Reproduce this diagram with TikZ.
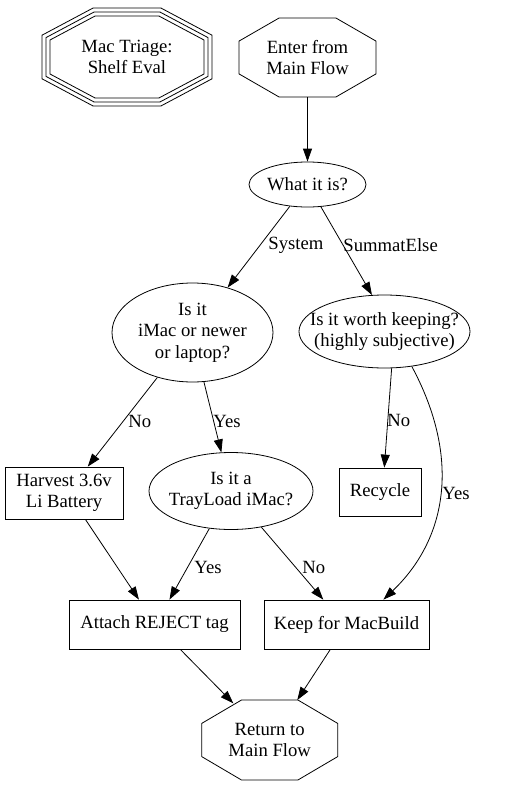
\documentclass[tikz,border=0pt]{standalone}
\usepackage{fontspec}
\setmainfont{Liberation Serif}
\usetikzlibrary{arrows.meta,calc,shapes.geometric}
\newcommand\gvfont{\fontsize{18.67}{21.5}\selectfont}
% octagon drawn around a node: half width a, half side c, half top p, half height b
\newcommand\gvoct[5]{\draw[shift={(#1.center)}] (#2,#3) -- (#4,#5) -- (-#4,#5) -- (-#2,#3) -- (-#2,-#3) -- (-#4,-#5) -- (#4,-#5) -- (#2,-#3) -- cycle;}
\begin{document}
\begin{tikzpicture}[x=1pt,y=-1pt,line width=0.8pt,
  >={Triangle[length=13pt,width=9pt]},
  every node/.style={font=\gvfont,inner sep=0pt,align=center},
  box/.style 2 args={draw,rectangle,minimum width=#1,minimum height=#2},
  ell/.style 2 args={draw,ellipse,inner sep=-40pt,minimum width=#1,minimum height=#2},
  oct/.style 2 args={rectangle,minimum width=#1,minimum height=#2},
  lbl/.style={anchor=west}]
\useasboundingbox (0,0) rectangle (504,787);

% nodes
\node[oct={170pt}{98pt}] (triage) at (127,57) {Mac Triage:\\Shelf Eval};
\node[oct={137pt}{79pt}] (enter) at (307.5,57.5) {Enter from\\Main Flow};
\node[ell={117pt}{45pt}] (what) at (307.5,184.5) {What it is?};
\node[ell={161pt}{99pt}] (isit) at (192.5,332.5) {Is it\\iMac or newer\\or laptop?};
\node[ell={171pt}{73pt}] (worth) at (384.5,331.5) {Is it worth keeping?\\(highly subjective)};
\node[box={118pt}{52pt}] (harvest) at (64,493) {Harvest 3.6v\\Li Battery};
\node[ell={164pt}{77pt}] (tray) at (231,491) {Is it a\\TrayLoad iMac?};
\node[box={82pt}{48pt}] (recycle) at (380,492) {Recycle};
\node[box={171pt}{49pt}] (reject) at (154.5,624.5) {Attach REJECT tag};
\node[box={165pt}{49pt}] (keep) at (346.5,624.5) {Keep for MacBuild};
\node[oct={136pt}{80pt}] (ret) at (269.7,740) {Return to\\Main Flow};

% octagon outlines
\gvoct{triage}{77}{17.0}{31.9}{41}
\gvoct{triage}{81}{19.4}{32.9}{45}
\gvoct{triage}{85}{21.8}{33.9}{49}
\gvoct{enter}{68.5}{16.4}{28.4}{39.5}
\gvoct{ret}{68}{16.6}{28.2}{40}

\coordinate (retin1) at ($(ret.center)+(-36.4,-36.7)$);
\coordinate (retin2) at ($(ret.center)+(27.6,-40)$);

% edges
\draw[->] (enter.south) -- (what.north);
\draw[->] (what.-129) -- (isit.52) node[lbl] at (268,245) {System};
\draw[->] (what.-59) -- (worth.109) node[lbl] at (343,245) {SummatElse};
\draw[->] (isit.-128.6) -- (harvest.48.5) node[lbl] at (128,421) {No};
\draw[->] (isit.-77) -- (tray.104) node[lbl] at (213,421) {Yes};
\draw[->] (worth.-79) -- (recycle.80.5) node[lbl] at (387,420) {No};
\draw[->] (worth.-52) .. controls (462,460) and (446,540) .. (keep.34.6) node[lbl] at (442,493) {Yes};
\draw[->] (harvest.-51) -- (reject.122);
\draw[->] (tray.-120) -- (reject.59.7) node[lbl] at (194,567) {Yes};
\draw[->] (tray.-50.3) -- (keep.133) node[lbl] at (302,567) {No};
\draw[->] (reject.-44) -- (retin1);
\draw[->] (keep.-123) -- (retin2);
\end{tikzpicture}
\end{document}
